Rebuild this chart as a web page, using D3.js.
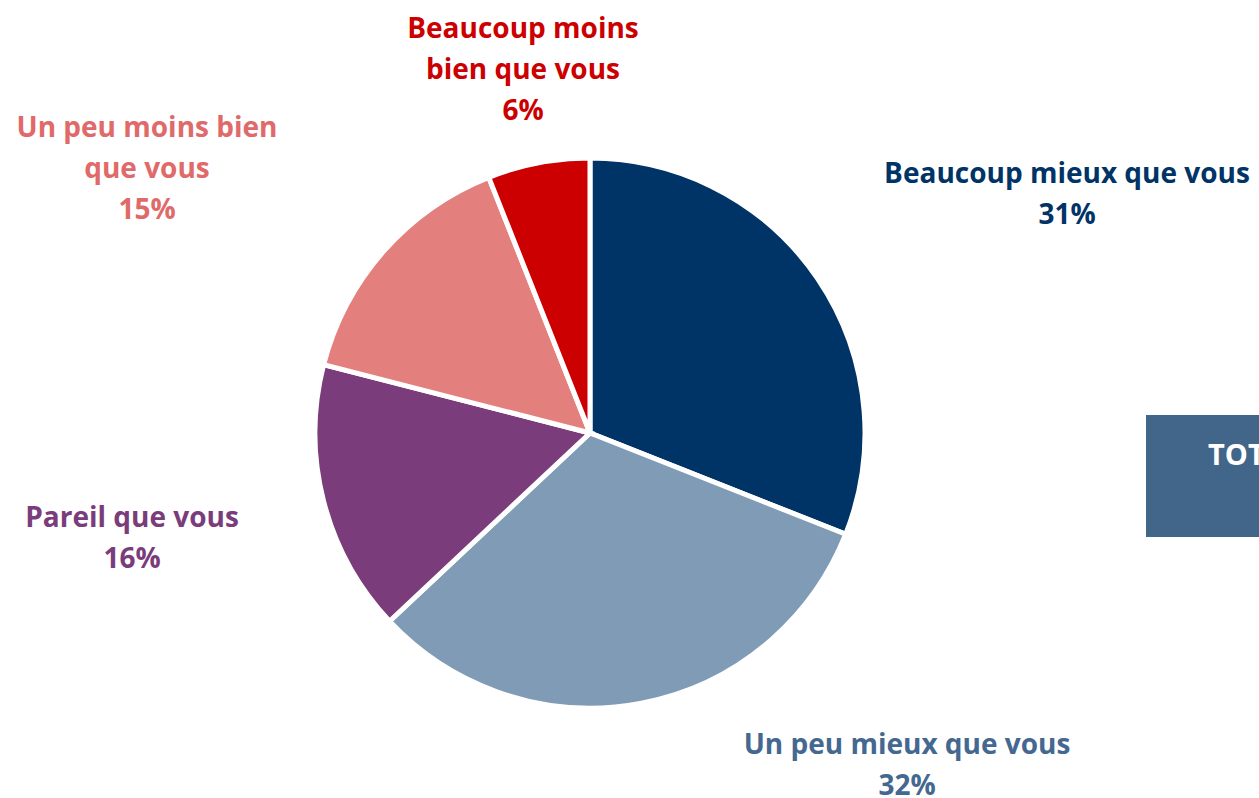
<!DOCTYPE html>
<html>
<head>
<meta charset="utf-8">
<script src="https://cdn.jsdelivr.net/npm/d3@7"></script>
<style>
  body { margin: 0; background: #fff; }
  svg text { font-family: "Open Sans", "Noto Sans", sans-serif; font-weight: 700; }
</style>
</head>
<body>
<div id="chart-area"></div>
<script>
// data, clockwise from 12 o'clock
var categories = ["Beaucoup mieux que vous", "Un peu mieux que vous", "Pareil que vous",
    "Un peu moins bien que vous", "Beaucoup moins bien que vous"];
var values = [31, 32, 16, 15, 6];
var labelLines = [
    ["Beaucoup mieux que vous"],
    ["Un peu mieux que vous"],
    ["Pareil que vous"],
    ["Un peu moins bien", "que vous"],
    ["Beaucoup moins", "bien que vous"]
];

var sliceColors = ["#003366", "#7f9bb5", "#7b3c7b", "#e3807e", "#cc0000"];
var labelColors = ["#003366", "#44688f", "#7b3c7b", "#e06a6a", "#cc0000"];

// where each label block is centred (x) and its first baseline (y)
var labelAnchor = [[1067, 183], [907, 754], [132, 527], [147, 137], [523, 38]];

var width = 1259;
var height = 798;
var cx = 590, cy = 433, radius = 275;
var lineH = 41;

var svg = d3.select("#chart-area")
    .append("svg")
    .attr("width", width)
    .attr("height", height);

var data = categories.map(function(c, i) {
    return { name: c, value: values[i], lines: labelLines[i], i: i };
});

var pie = d3.pie()
    .sort(null)
    .value(function(d) { return d.value; });

var arc = d3.arc()
    .innerRadius(0)
    .outerRadius(radius);

var g = svg.append("g")
    .attr("transform", "translate(" + cx + "," + cy + ")");

g.selectAll("path")
    .data(pie(data))
    .enter()
    .append("path")
    .attr("d", arc)
    .attr("fill", function(d) { return sliceColors[d.data.i]; })
    .attr("stroke", "#fff")
    .attr("stroke-width", 5)
    .attr("stroke-linejoin", "miter");

// labels
var labels = svg.selectAll("text.label")
    .data(data)
    .enter()
    .append("text")
    .attr("class", "label")
    .attr("text-anchor", "middle")
    .attr("font-size", "28px")
    .attr("fill", function(d) { return labelColors[d.i]; });

labels.each(function(d) {
    var t = d3.select(this);
    var a = labelAnchor[d.i];
    var lines = d.lines.concat([d.value + "%"]);
    lines.forEach(function(l, k) {
        t.append("tspan")
            .attr("x", a[0])
            .attr("y", a[1] + k * lineH)
            .text(l);
    });
});

// "TOTAL" box cut at the right edge
svg.append("rect")
    .attr("x", 1146)
    .attr("y", 415)
    .attr("width", 140)
    .attr("height", 122)
    .attr("fill", "#42668a");

svg.append("text")
    .attr("x", 1208)
    .attr("y", 465)
    .attr("font-size", "29px")
    .attr("fill", "#fff")
    .text("TOTAL");
</script>
</body>
</html>
